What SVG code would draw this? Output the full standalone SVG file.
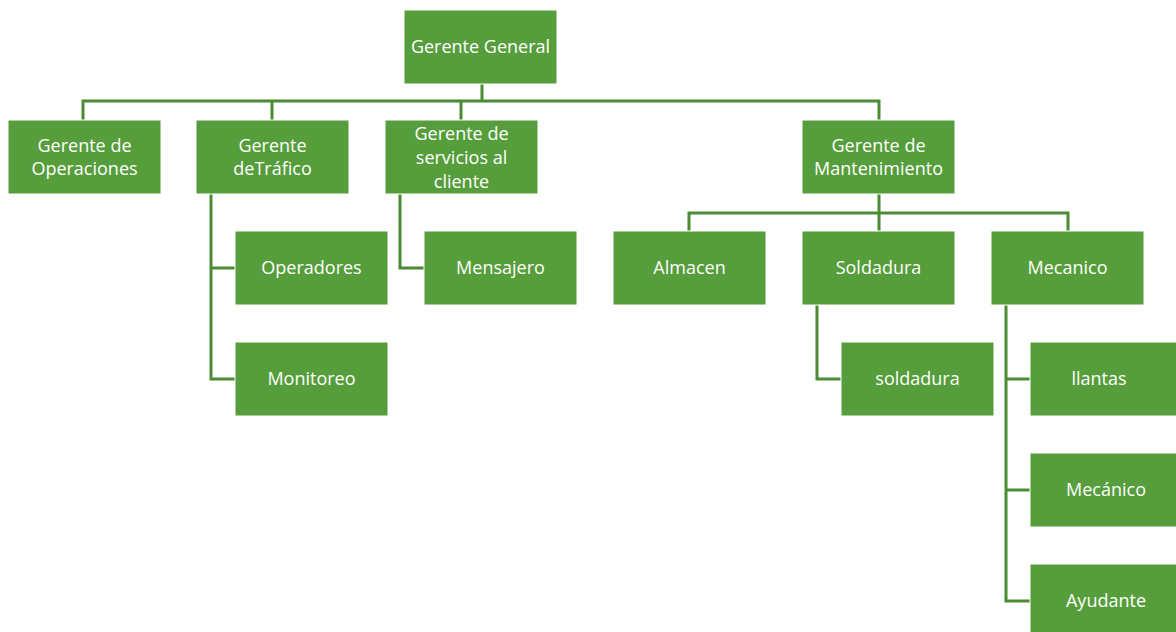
<svg xmlns="http://www.w3.org/2000/svg" width="1176" height="632" viewBox="0 0 1176 632">
<style>
.box{fill:#559e3b;stroke:#ffffff;stroke-width:1}
.t{font-family:"Open Sans","Liberation Sans",Arial,sans-serif;font-size:18px;fill:#ffffff;text-anchor:middle}
.c{fill:none;stroke:#4b8c33;stroke-width:3}
</style>
<rect width="1176" height="632" fill="#ffffff"/>
<g id="connectors">
<path class="c" d="M482,84V101M83,120V101H879V120M272,101V120M461,101V120"/>
<path class="c" d="M211,194V379H235M211,268H235"/>
<path class="c" d="M400,194V268H424"/>
<path class="c" d="M879,194V213M689,231V213H1068V231M879,213V231"/>
<path class="c" d="M817,305V379H841"/>
<path class="c" d="M1006,305V601H1030M1006,379H1030M1006,490H1030"/>
</g>
<g id="gerente-general"><rect class="box" x="404" y="10" width="153" height="74"/><text class="t" x="480.5" y="53">Gerente General</text></g>
<g id="gerente-operaciones"><rect class="box" x="8" y="120" width="153" height="74"/><text class="t" x="84.5" y="152">Gerente de</text><text class="t" x="84.5" y="175">Operaciones</text></g>
<g id="gerente-trafico"><rect class="box" x="196" y="120" width="153" height="74"/><text class="t" x="272.5" y="152">Gerente</text><text class="t" x="272.5" y="175">deTráfico</text></g>
<g id="gerente-servicios"><rect class="box" x="385" y="120" width="153" height="74"/><text class="t" x="461.5" y="140">Gerente de</text><text class="t" x="461.5" y="164">servicios al</text><text class="t" x="461.5" y="188">cliente</text></g>
<g id="gerente-mantenimiento"><rect class="box" x="802" y="120" width="153" height="74"/><text class="t" x="878.5" y="152">Gerente de</text><text class="t" x="878.5" y="175">Mantenimiento</text></g>
<g id="operadores"><rect class="box" x="235" y="231" width="153" height="74"/><text class="t" x="311.5" y="274">Operadores</text></g>
<g id="monitoreo"><rect class="box" x="235" y="342" width="153" height="74"/><text class="t" x="311.5" y="385">Monitoreo</text></g>
<g id="mensajero"><rect class="box" x="424" y="231" width="153" height="74"/><text class="t" x="500.5" y="274">Mensajero</text></g>
<g id="almacen"><rect class="box" x="613" y="231" width="153" height="74"/><text class="t" x="689.5" y="274">Almacen</text></g>
<g id="soldadura-dept"><rect class="box" x="802" y="231" width="153" height="74"/><text class="t" x="878.5" y="274">Soldadura</text></g>
<g id="mecanico-dept"><rect class="box" x="991" y="231" width="153" height="74"/><text class="t" x="1067.5" y="274">Mecanico</text></g>
<g id="soldadura"><rect class="box" x="841" y="342" width="153" height="74"/><text class="t" x="917.5" y="385">soldadura</text></g>
<g id="llantas"><rect class="box" x="1030" y="342" width="153" height="74"/><text class="t" x="1099" y="385">llantas</text></g>
<g id="mecanico"><rect class="box" x="1030" y="453" width="153" height="74"/><text class="t" x="1106" y="496">Mecánico</text></g>
<g id="ayudante"><rect class="box" x="1030" y="564" width="153" height="74"/><text class="t" x="1106" y="607">Ayudante</text></g>
</svg>
